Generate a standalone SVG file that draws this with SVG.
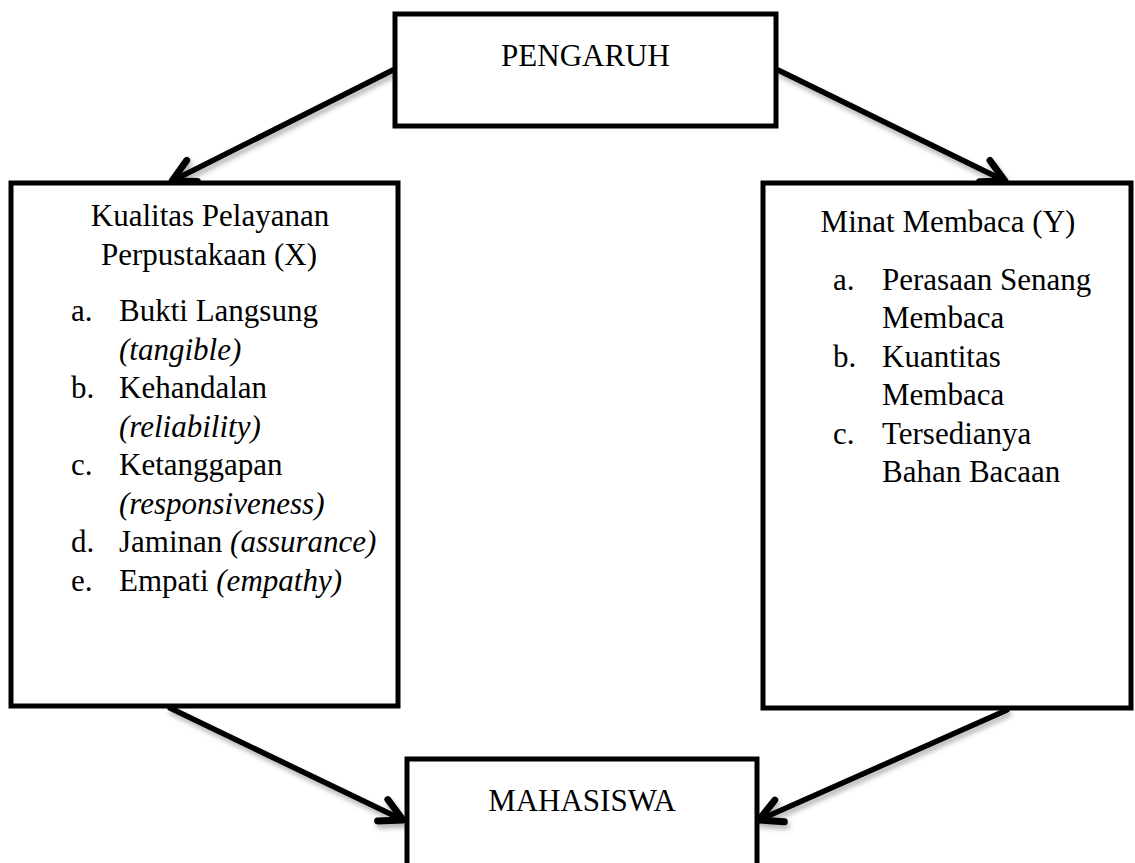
<svg xmlns="http://www.w3.org/2000/svg" width="1135" height="863" viewBox="0 0 1135 863">
<style>
.box{fill:#fff;stroke:#000;stroke-width:5}
.t{font-family:"Liberation Serif","Times New Roman",serif;font-size:31px;fill:#000}
.i{font-style:italic}
.con{stroke:#000;stroke-width:5.5;fill:none;stroke-linecap:round}
</style>
<defs>
<marker id="ah" markerUnits="userSpaceOnUse" markerWidth="30" markerHeight="30" refX="0" refY="0" viewBox="-20 -12 24 24" orient="auto" overflow="visible">
<path d="M -18 -9.5 L 0 0 L -18 9.5" fill="none" stroke="#000" stroke-width="5.5" stroke-linecap="round" stroke-linejoin="round"/>
</marker>
<filter id="sh" x="-10%" y="-10%" width="130%" height="140%">
<feDropShadow dx="2" dy="4" stdDeviation="2.5" flood-color="#000" flood-opacity="0.3"/>
</filter>
</defs>
<g id="connectors" filter="url(#sh)">
<line class="con" x1="393" y1="70" x2="172" y2="181" marker-end="url(#ah)"/>
<line class="con" x1="778" y1="70" x2="1005" y2="181" marker-end="url(#ah)"/>
<line class="con" x1="170" y1="708" x2="403" y2="820" marker-end="url(#ah)"/>
<line class="con" x1="1007" y1="710" x2="759" y2="820" marker-end="url(#ah)"/>
</g>
<g id="pengaruh">
<rect class="box" x="395" y="14" width="381" height="112"/>
<text class="t" x="585.5" y="66" text-anchor="middle">PENGARUH</text>
</g>
<g id="kualitas">
<rect class="box" x="11" y="183" width="387" height="523"/>
<text class="t" x="210" y="226" text-anchor="middle">Kualitas Pelayanan</text>
<text class="t" x="209" y="265" text-anchor="middle">Perpustakaan (X)</text>
<text class="t" x="71" y="321">a.</text><text class="t" x="119" y="321">Bukti Langsung</text>
<text class="t i" x="119" y="360">(tangible)</text>
<text class="t" x="71" y="398">b.</text><text class="t" x="119" y="398">Kehandalan</text>
<text class="t i" x="119" y="437">(reliability)</text>
<text class="t" x="71" y="475">c.</text><text class="t" x="119" y="475">Ketanggapan</text>
<text class="t i" x="119" y="514">(responsiveness)</text>
<text class="t" x="71" y="552">d.</text><text class="t" x="119" y="552">Jaminan <tspan class="i">(assurance)</tspan></text>
<text class="t" x="71" y="591">e.</text><text class="t" x="119" y="591">Empati <tspan class="i">(empathy)</tspan></text>
</g>
<g id="minat">
<rect class="box" x="763" y="183" width="368" height="525"/>
<text class="t" x="948" y="232" text-anchor="middle">Minat Membaca (Y)</text>
<text class="t" x="833" y="290">a.</text><text class="t" x="882" y="290">Perasaan Senang</text>
<text class="t" x="882" y="328">Membaca</text>
<text class="t" x="833" y="367">b.</text><text class="t" x="882" y="367">Kuantitas</text>
<text class="t" x="882" y="405">Membaca</text>
<text class="t" x="833" y="444">c.</text><text class="t" x="882" y="444">Tersedianya</text>
<text class="t" x="882" y="482">Bahan Bacaan</text>
</g>
<g id="mahasiswa">
<rect class="box" x="407" y="759" width="350" height="140"/>
<text class="t" x="582" y="811" text-anchor="middle">MAHASISWA</text>
</g>
</svg>
